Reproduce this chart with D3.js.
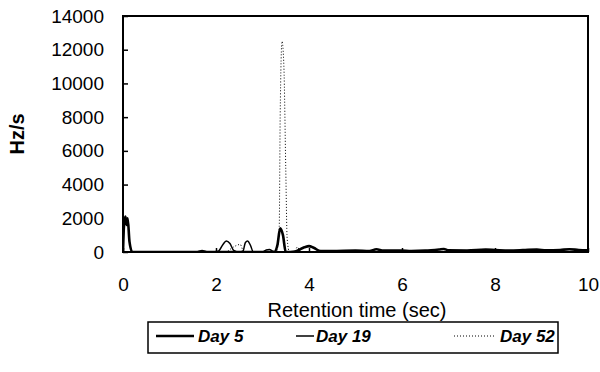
<!DOCTYPE html>
<html>
<head>
<meta charset="utf-8">
<script src="https://cdn.jsdelivr.net/npm/d3@7"></script>
<style>
  body { margin: 0; background: #fff; }
  svg { display: block; font-family: "Liberation Sans", Arial, sans-serif; }
</style>
</head>
<body>
<svg id="chart" width="600" height="372"></svg>
<script>
// retention time (sec) vs Hz/s
var day5 = [[0,0],[0.02,1500],[0.05,2100],[0.08,1600],[0.1,2000],[0.14,600],[0.2,0],[1.0,0],[1.6,0],[1.7,60],[1.8,0],
  [3.25,0],[3.32,400],[3.38,1400],[3.44,1000],[3.5,0],[3.7,30],[3.9,280],[4.0,350],[4.1,250],[4.25,50],[4.6,60],
  [5.0,80],[5.3,60],[5.45,160],[5.6,90],[6.0,80],[6.2,60],[6.5,80],[6.8,150],[6.9,180],[7.0,100],[7.4,90],[7.8,140],
  [8.0,120],[8.3,90],[8.6,110],[8.9,140],[9.1,100],[9.4,120],[9.6,160],[9.8,120],[10,100]];
var day19 = [[0,0],[1.9,0],[2.05,50],[2.15,450],[2.22,650],[2.3,500],[2.38,100],[2.5,0],[2.58,50],[2.63,550],
  [2.68,650],[2.74,400],[2.8,20],[3.0,0],[3.08,120],[3.15,150],[3.22,40],[3.3,0],[10,0]];
var day52 = [[0,0],[2.2,0],[2.35,250],[2.45,400],[2.52,450],[2.6,0],[3.3,0],[3.36,1500],[3.38,8000],[3.42,12500],
  [3.46,11000],[3.5,5000],[3.53,800],[3.58,0],[3.7,80],[3.75,300],[3.8,80],[3.9,0],[10,0]];

var xTicks = [0, 2, 4, 6, 8, 10];
var yTicks = [0, 2000, 4000, 6000, 8000, 10000, 12000, 14000];
var seriesNames = ["Day 5", "Day 19", "Day 52"];

var svg = d3.select("#chart");
var margin = {left: 123, right: 12, top: 16, bottom: 120};
var W = 600 - margin.left - margin.right, H = 372 - margin.top - margin.bottom;

var x = d3.scaleLinear().domain([0, 10]).range([0, W]);
var y = d3.scaleLinear().domain([0, 14000]).range([H, 0]);

var g = svg.append("g").attr("transform", "translate(" + margin.left + "," + margin.top + ")");

g.append("clipPath").attr("id", "clip")
  .append("rect").attr("x", 0).attr("y", 0).attr("width", W).attr("height", H);

var line = d3.line()
  .x(function (d) { return x(d[0]); })
  .y(function (d) { return y(d[1]); })
  .curve(d3.curveMonotoneX);

var styles = [
  {data: day5, width: 2.6, dash: null},
  {data: day19, width: 1.5, dash: null},
  {data: day52, width: 1, dash: "1,2"}
];

styles.forEach(function (s) {
  g.append("path")
    .attr("clip-path", "url(#clip)")
    .attr("fill", "none")
    .attr("stroke", "#000")
    .attr("stroke-width", s.width)
    .attr("stroke-dasharray", s.dash)
    .attr("d", line(s.data));
});

// frame
g.append("rect").attr("width", W).attr("height", H)
  .attr("fill", "none").attr("stroke", "#000").attr("stroke-width", 2);

var yAxis = g.append("g")
  .call(d3.axisLeft(y).tickValues(yTicks).tickSize(-5).tickPadding(19).tickFormat(d3.format("d")));
var xAxis = g.append("g").attr("transform", "translate(0," + H + ")")
  .call(d3.axisBottom(x).tickValues(xTicks).tickSize(-4).tickPadding(26));

[yAxis, xAxis].forEach(function (a) {
  a.select(".domain").remove();
  a.selectAll("line").attr("stroke", "#000").attr("stroke-width", 1.5);
  a.selectAll("text").attr("font-size", 19).attr("fill", "#000")
    .attr("font-family", "Liberation Sans, Arial, sans-serif");
});

svg.append("text")
  .attr("transform", "translate(24," + (margin.top + H / 2) + ") rotate(-90)")
  .attr("text-anchor", "middle")
  .attr("font-size", 20).attr("font-weight", "bold")
  .text("Hz/s");

svg.append("text")
  .attr("x", 357).attr("y", 317)
  .attr("text-anchor", "middle")
  .attr("font-size", 20)
  .text("Retention time (sec)");

// legend
var leg = svg.append("g").attr("transform", "translate(148,322)");
leg.append("rect").attr("width", 410).attr("height", 31)
  .attr("fill", "none").attr("stroke", "#000").attr("stroke-width", 1.5);

var legItems = [
  {x0: 8, x1: 46, tx: 50},
  {x0: 148, x1: 166, tx: 168},
  {x0: 306, x1: 348, tx: 352}
];
legItems.forEach(function (it, i) {
  leg.append("line")
    .attr("x1", it.x0).attr("x2", it.x1).attr("y1", 14).attr("y2", 14)
    .attr("stroke", "#000")
    .attr("stroke-width", styles[i].width)
    .attr("stroke-dasharray", styles[i].dash);
  leg.append("text")
    .attr("x", it.tx).attr("y", 20)
    .attr("font-size", 17).attr("font-style", "italic").attr("font-weight", "bold")
    .text(seriesNames[i]);
});
</script>
</body>
</html>
